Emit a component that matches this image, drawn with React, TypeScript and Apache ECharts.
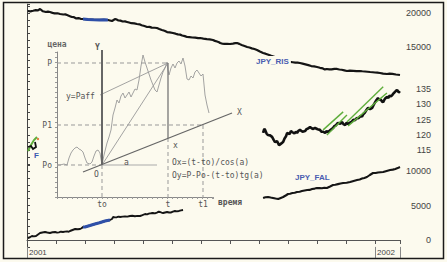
import React, { useEffect, useRef } from 'react';
import * as echarts from 'echarts';

// ---- main chart data: x = months since Jan 2001 ----
const monthTickLabels: Record<number, string> = { 0: '2001', 12: '2002' };

const risLine: [number, number][] = [
  [0.03, 20294], [0.12, 20250], [0.21, 20330], [0.3, 20420], [0.38, 20380], [0.45, 20590], [0.55, 20250], [0.65, 20150],
  [0.72, 20210], [0.79, 20140], [0.88, 20020], [0.95, 19950], [1.05, 19960], [1.14, 19850], [1.25, 19780], [1.32, 19800],
  [1.38, 19700], [1.5, 19500], [1.55, 19410], [1.62, 19380], [1.7, 19200], [1.78, 19240], [1.85, 19150], [1.93, 19120],
  [2.1, 19050], [2.3, 19000], [2.5, 18980], [2.65, 18990], [2.79, 18970], [2.86, 18900], [2.93, 18820], [3.0, 19000],
  [3.03, 19120], [3.1, 19020], [3.15, 18900], [3.22, 18880], [3.3, 18750], [3.38, 18760], [3.45, 18680], [3.52, 18600],
  [3.6, 18500], [3.7, 18480], [3.79, 18380], [3.88, 18330], [3.95, 18200], [4.05, 18080], [4.14, 17940], [4.22, 17960],
  [4.3, 17850], [4.4, 17830], [4.48, 17790], [4.56, 17640], [4.65, 17500], [4.74, 17380], [4.83, 17200], [4.92, 17150],
  [5.03, 17060], [5.12, 16960], [5.2, 16850], [5.28, 16820], [5.35, 16700], [5.44, 16600], [5.52, 16470], [5.6, 16450],
  [5.7, 16400], [5.8, 16380], [5.9, 16300], [5.97, 16320], [6.08, 16230], [6.2, 16150], [6.3, 16120], [6.41, 16030],
  [6.48, 15900], [6.55, 15800], [6.62, 15700], [6.66, 15590], [6.74, 15480], [6.8, 15450], [6.9, 15470], [7.0, 15440],
  [7.1, 15500], [7.18, 15560], [7.24, 15590], [7.32, 15460], [7.4, 15300], [7.5, 15150], [7.59, 15000], [7.67, 14920],
  [7.75, 14800], [7.84, 14700], [7.93, 14560], [8.03, 14330], [8.14, 14120], [8.22, 14020], [8.3, 13900], [8.42, 13700],
  [8.55, 13530], [8.65, 13420], [8.75, 13300], [8.82, 13180], [8.9, 13090], [8.98, 12920], [9.07, 12800], [9.16, 12760],
  [9.25, 12700], [9.33, 12690], [9.41, 12650], [9.5, 12560], [9.6, 12450], [9.7, 12330], [9.8, 12200], [9.9, 12140],
  [10.0, 12060], [10.1, 11940], [10.2, 11850], [10.27, 11700], [10.34, 11770], [10.42, 11720], [10.5, 11700],
  [10.6, 11790], [10.69, 11770], [10.77, 11690], [10.85, 11650], [10.94, 11560], [11.03, 11470], [11.13, 11520],
  [11.25, 11500], [11.36, 11440], [11.48, 11470], [11.56, 11430], [11.65, 11400], [11.74, 11360], [11.83, 11320],
  [11.92, 11290], [12.0, 11250], [12.08, 11220], [12.17, 11180], [12.28, 11090], [12.41, 11030], [12.5, 11080],
  [12.6, 11050], [12.72, 10960], [12.86, 10880],
];
const risHighlight: [number, number][] = [
  [1.93, 19120], [2.1, 19050], [2.3, 19000], [2.5, 18980], [2.65, 18990], [2.79, 18970],
];

const midLine: [number, number][] = [
  [8.14, 120.6], [8.18, 121.9], [8.21, 121.6], [8.26, 120.4], [8.31, 119.9], [8.38, 119.8], [8.45, 119.3],
  [8.5, 118.4], [8.55, 117.6], [8.62, 117.9], [8.69, 116.6], [8.76, 117.1], [8.83, 117.6], [8.88, 118.8],
  [8.93, 119.5], [8.97, 120.6], [9.05, 120.2], [9.1, 121.2], [9.14, 120.9], [9.22, 120.4], [9.27, 121.0],
  [9.31, 120.6], [9.36, 121.3], [9.41, 121.6], [9.5, 121.0], [9.59, 121.2], [9.64, 121.9], [9.68, 122.0],
  [9.76, 122.5], [9.85, 121.9], [9.93, 122.2], [10.02, 121.8], [10.1, 121.6], [10.15, 121.0], [10.2, 121.0],
  [10.28, 120.6], [10.33, 121.2], [10.38, 120.9], [10.47, 121.6], [10.55, 122.2], [10.6, 122.9], [10.64, 123.0],
  [10.72, 123.9], [10.8, 123.6], [10.86, 124.2], [10.92, 123.4], [10.97, 123.2], [11.02, 123.9], [11.07, 123.5],
  [11.14, 124.0], [11.2, 124.3], [11.25, 124.9], [11.31, 124.8], [11.37, 125.5], [11.43, 125.4], [11.5, 126.2],
  [11.55, 125.9], [11.6, 126.8], [11.65, 127.3], [11.7, 128.1], [11.76, 128.8], [11.83, 128.4], [11.9, 128.8],
  [11.95, 129.8], [12.0, 130.6], [12.05, 131.4], [12.1, 132.0], [12.15, 131.6], [12.2, 131.5], [12.24, 130.9],
  [12.28, 130.7], [12.34, 131.8], [12.41, 132.4], [12.46, 132.1], [12.5, 132.8], [12.55, 132.6], [12.59, 133.0],
  [12.64, 133.6], [12.68, 134.0], [12.72, 134.4], [12.76, 134.7], [12.8, 134.1], [12.83, 134.0], [12.86, 133.7],
];
const channelA: [number, number][] = [[10.21, 121.6], [10.9, 127.5]];
const channelB: [number, number][] = [[10.34, 119.9], [11.03, 126.5]];
const channelC: [number, number][] = [[11.03, 124.2], [12.28, 135.7]];
const channelD: [number, number][] = [[11.07, 122.9], [12.41, 133.7]];

const lowLeftLine: [number, number][] = [
  [0.03, 290], [0.1, 400], [0.17, 580], [0.24, 520], [0.31, 580], [0.38, 800], [0.45, 1014], [0.53, 1090],
  [0.62, 1159], [0.7, 1080], [0.79, 1014], [0.88, 1120], [0.97, 1159], [1.04, 1060], [1.1, 1100], [1.17, 1200],
  [1.24, 1159], [1.31, 1220], [1.38, 1250], [1.44, 1200], [1.48, 1304], [1.57, 1450], [1.66, 1594], [1.75, 1550],
  [1.83, 1594], [1.88, 1700], [1.93, 1884], [2.0, 1884], [2.17, 2100], [2.34, 2319], [2.5, 2500], [2.69, 2754],
  [2.86, 2898], [2.93, 3043], [2.97, 3333], [3.03, 3280], [3.1, 3300], [3.16, 3400], [3.21, 3333], [3.3, 3380],
  [3.38, 3420], [3.46, 3380], [3.55, 3478], [3.63, 3520], [3.72, 3440], [3.81, 3500], [3.9, 3478], [3.98, 3600],
  [4.07, 3768], [4.14, 3720], [4.2, 3830], [4.27, 3870], [4.34, 3913], [4.41, 3860], [4.48, 3980], [4.54, 4100],
  [4.59, 4058], [4.64, 3960], [4.69, 3913], [4.76, 3990], [4.83, 4058], [4.9, 3980], [4.97, 3990], [5.03, 4120],
  [5.1, 4203], [5.17, 4150], [5.24, 4210], [5.31, 4300], [5.38, 4348],
];
const lowLeftHighlight: [number, number][] = [
  [1.93, 1884], [2.0, 1884], [2.17, 2100], [2.34, 2319], [2.5, 2500], [2.69, 2754], [2.86, 2898],
];

const falLine: [number, number][] = [
  [8.14, 6087], [8.22, 6200], [8.31, 6232], [8.4, 6150], [8.48, 6087], [8.57, 6010], [8.66, 5942], [8.75, 6100],
  [8.83, 6232], [8.92, 6450], [9.0, 6666], [9.07, 6700], [9.15, 6800], [9.23, 6850], [9.31, 6957], [9.4, 7000],
  [9.48, 7100], [9.57, 7180], [9.66, 7246], [9.74, 7260], [9.83, 7400], [9.92, 7450], [10.0, 7536], [10.08, 7520],
  [10.17, 7500], [10.25, 7560], [10.34, 7536], [10.45, 7760], [10.55, 7971], [10.63, 8000], [10.72, 8100],
  [10.81, 8200], [10.9, 8261], [11.02, 8300], [11.14, 8406], [11.26, 8560], [11.38, 8696], [11.47, 8780],
  [11.55, 8900], [11.63, 9000], [11.72, 9130], [11.82, 9420], [11.93, 9710], [12.02, 9700], [12.1, 9780],
  [12.19, 9820], [12.28, 9855], [12.4, 10000], [12.52, 10145], [12.61, 10200], [12.7, 10300], [12.78, 10420],
  [12.86, 10580],
];

// ---- inset scheme data (time units / price units of the sketch) ----
const schemeTimeLabels: Record<number, string> = { 45: 'to', 111: 't', 146: 't1' };
const schemePriceLabels: Record<number, string> = { 32: 'Po', 72: 'P1', 134: 'P' };
const schemeCurve: [number, number][] = [
  [0, 32], [3, 32], [7, 33], [10, 32], [12, 39], [14, 44], [16, 47], [18, 49], [20, 50], [22, 48], [24, 47],
  [26, 45], [28, 39], [30, 34], [33, 33], [35, 35], [37, 41], [39, 46], [41, 47], [43, 44], [45, 32], [47, 42],
  [50, 54], [52, 60], [54, 67], [56, 82], [58, 89], [60, 97], [62, 94], [64, 101], [66, 104], [68, 99],
  [70, 102], [72, 105], [74, 100], [76, 104], [78, 108], [80, 107], [82, 117], [84, 131], [86, 142], [88, 135],
  [90, 129], [92, 123], [94, 117], [96, 112], [98, 107], [100, 105], [102, 112], [104, 119], [106, 125],
  [108, 129], [110, 135], [111, 127], [112, 122], [114, 129], [116, 133], [118, 129], [120, 134], [122, 136],
  [124, 133], [126, 139], [128, 131], [130, 118], [132, 117], [134, 121], [136, 119], [138, 125], [140, 127],
  [142, 124], [144, 121], [146, 123], [148, 102], [150, 92], [152, 84],
];
const schemeYAxis: [number, number][] = [[45, 32], [45, 147]];
const schemeYBelow: [number, number][] = [[45, 0], [45, 32]];
const schemeXAxis: [number, number][] = [[26, 25], [175, 84]];
const schemeHoriz: [number, number][] = [[45, 32], [100, 32]];
const schemeP0Dash: [number, number][] = [[0, 32], [45, 32]];
const schemePDash: [number, number][] = [[0, 134], [111, 134]];
const schemeP1Dash: [number, number][] = [[0, 72], [146, 72]];
const schemeTSolid: [number, number][] = [[111, 134], [111, 59]];
const schemeTDash: [number, number][] = [[111, 59], [111, 0]];
const schemeT1Dash: [number, number][] = [[146, 72], [146, 0]];
const schemePaff: [number, number][] = [[43, 102], [111, 134]];
const schemeOP: [number, number][] = [[45, 32], [111, 134]];

const BG = '#FCFAEE';
const MONO = 'DejaVu Sans Mono';
const SANS = 'Liberation Sans';

const line = (data: [number, number][], xi: number, yi: number, color: string, width: number, type: any = 'solid', z = 2) => ({
  type: 'line', data, xAxisIndex: xi, yAxisIndex: yi, symbol: 'none', silent: true, clip: false, z,
  lineStyle: { color, width, type }, emphasis: { disabled: true },
});

const rightAxis = (gridIndex: number, min: number, max: number, interval: number, show: (v: number) => boolean) => ({
  type: 'value', gridIndex, position: 'right', min, max, interval,
  axisLine: { show: true, lineStyle: { color: '#444', width: 1 } },
  axisTick: { show: true, length: 3, lineStyle: { color: '#444' } },
  splitLine: { show: false },
  axisLabel: {
    color: '#444', fontSize: 9, fontFamily: SANS, align: 'right', margin: 31,
    formatter: (v: number) => (show(Math.round(v * 10) / 10) ? String(Math.round(v)) : ''),
  },
});

const hiddenX = (gridIndex: number) => ({ type: 'value', gridIndex, min: 0, max: 12.86, show: false });

const txt = (text: string, x: number, y: number, extra: any = {}) => ({
  type: 'text', x, y, z: 20, silent: true,
  style: { text, fill: '#555', font: `8px "${MONO}"`, verticalAlign: 'middle', ...extra },
});

const option: any = {
  animation: false,
  backgroundColor: BG,
  grid: [
    { left: 27, width: 373, top: 4.16, height: 76.84 },
    { left: 27, width: 373, top: 81.375, height: 83.875 },
    { left: 27, width: 373, top: 164.1, height: 82.8 },
    { left: 57, width: 156, top: 52, height: 145 },
    { left: 57, width: 190, top: 52, height: 145 },
  ],
  xAxis: [
    hiddenX(0),
    hiddenX(1),
    {
      type: 'value', gridIndex: 2, min: 0, max: 12.86, interval: 1, position: 'bottom',
      axisLine: { show: true, lineStyle: { color: '#555' } },
      axisTick: { show: true, length: 4, lineStyle: { color: '#555' } },
      splitLine: { show: false },
      axisLabel: {
        color: '#444', fontSize: 8, fontFamily: SANS, align: 'left', margin: 2, padding: [0, 0, 0, 2],
        formatter: (v: number) => monthTickLabels[Math.round(v)] ?? '',
      },
    },
    {
      type: 'value', gridIndex: 2, min: 0, max: 12.86, interval: 12, position: 'bottom',
      axisLine: { show: false }, axisLabel: { show: false }, splitLine: { show: false },
      axisTick: { show: true, length: 11, lineStyle: { color: '#888' } },
    },
    {
      type: 'value', gridIndex: 3, min: 0, max: 156, interval: 5,
      axisLine: { show: true, lineStyle: { color: '#888' } },
      axisTick: { show: true, length: 2, lineStyle: { color: '#999' } },
      splitLine: { show: false },
      axisLabel: {
        customValues: [45, 111, 146], color: '#555', fontSize: 8, fontFamily: MONO, margin: 3,
        formatter: (v: number) => schemeTimeLabels[Math.round(v)] ?? '',
      },
      name: 'время', nameLocation: 'end', nameGap: 5,
      nameTextStyle: { color: '#555', fontSize: 8, fontFamily: MONO, fontWeight: 'bold', verticalAlign: 'top', padding: [1, 0, 0, 0] },
    },
    { type: 'value', gridIndex: 4, min: 0, max: 190, show: false },
  ],
  yAxis: [
    rightAxis(0, 10000, 21300, 1000, (v) => v === 15000 || v === 20000),
    rightAxis(1, 110, 137.5, 2.5, (v) => v >= 115 && v <= 135 && v % 5 === 0),
    rightAxis(2, -1000, 11000, 1000, (v) => v === 0 || v === 5000 || v === 10000),
    {
      type: 'value', gridIndex: 3, min: 0, max: 145, interval: 5, position: 'left',
      axisLine: { show: true, lineStyle: { color: '#888' } },
      axisTick: { show: true, length: 2, lineStyle: { color: '#999' } },
      splitLine: { show: false },
      axisLabel: {
        customValues: [32, 72, 134], color: '#555', fontSize: 8, fontFamily: MONO, margin: 5,
        formatter: (v: number) => schemePriceLabels[Math.round(v)] ?? '',
      },
      name: 'цена', nameLocation: 'end', nameGap: 4,
      nameTextStyle: { color: '#666', fontSize: 8, fontFamily: MONO, fontWeight: 'bold' },
    },
    { type: 'value', gridIndex: 4, min: 0, max: 145, show: false },
  ],
  series: [
    // inset sketch (own 1:1 coordinate grid)
    line(schemeP0Dash, 5, 4, '#999', 1, [4, 3], 1),
    line(schemePDash, 5, 4, '#999', 1, [4, 3], 1),
    line(schemeP1Dash, 5, 4, '#999', 1, [4, 3], 1),
    line(schemeTDash, 5, 4, '#999', 1, [4, 3], 1),
    line(schemeT1Dash, 5, 4, '#999', 1, [4, 3], 1),
    line(schemeYBelow, 5, 4, '#999', 1, [4, 3], 1),
    line(schemeHoriz, 5, 4, '#aaa', 1.2, 'solid', 1),
    line(schemePaff, 5, 4, '#999', 0.9, 'solid', 1),
    line(schemeOP, 5, 4, '#999', 0.9, 'solid', 1),
    line(schemeCurve, 5, 4, '#999', 0.9, 'solid', 1),
    line(schemeTSolid, 5, 4, '#777', 1.3, 'solid', 1),
    line(schemeXAxis, 5, 4, '#666', 1.3, 'solid', 1),
    line(schemeYAxis, 5, 4, '#666', 2, 'solid', 1),
    // main series
    line(risLine, 0, 0, '#151515', 2.2),
    line(risHighlight, 0, 0, '#2E4FA8', 3, 'solid', 3),
    line(midLine, 1, 1, '#111', 2.6),
    line(channelA, 1, 1, '#5FAE3C', 1.4, 'solid', 3),
    line(channelB, 1, 1, '#5FAE3C', 1.4, 'solid', 3),
    line(channelC, 1, 1, '#5FAE3C', 1.4, 'solid', 3),
    line(channelD, 1, 1, '#5FAE3C', 1.4, 'solid', 3),
    line(lowLeftLine, 2, 2, '#151515', 1.9),
    line(lowLeftHighlight, 2, 2, '#2E4FA8', 3, 'solid', 3),
    line(falLine, 2, 2, '#151515', 2.1),
  ],
  graphic: [
    { type: 'rect', z: 30, silent: true, shape: { x: 3.5, y: 2.5, width: 440, height: 256 }, style: { fill: 'none', stroke: '#1a1a1a', lineWidth: 1.5 } },
    { type: 'text', z: 20, silent: true, x: 254, y: 61, style: { text: 'JPY_RIS', fill: '#4a5db0', font: `bold 8px "${SANS}"`, verticalAlign: 'middle', backgroundColor: BG, padding: [1, 2] } },
    { type: 'text', z: 20, silent: true, x: 295, y: 177, style: { text: 'JPY_FAL', fill: '#4a5db0', font: `bold 8px "${SANS}"`, verticalAlign: 'middle' } },
    txt('Y', 95, 47, { font: `bold 8px "${MONO}"` }),
    txt('y=Paff', 66, 96),
    txt('X', 237, 112),
    txt('x', 173, 145),
    txt('O', 94, 174),
    txt('a', 124, 162),
    txt('Ox=(t-to)/cos(a)', 172, 162),
    txt('Oy=P-Po-(t-to)tg(a)', 172, 175),
    // tiny icon at the left edge
    { type: 'polyline', z: 20, silent: true, shape: { points: [[28, 151], [31, 145], [34, 140], [37, 137]] }, style: { stroke: '#5FAE3C', lineWidth: 2, fill: 'none' } },
    { type: 'polyline', z: 21, silent: true, shape: { points: [[28, 147], [31, 146], [33, 149], [36, 147], [35, 142]] }, style: { stroke: '#111', lineWidth: 1.8, fill: 'none' } },
    { type: 'circle', z: 21, silent: true, shape: { cx: 38, cy: 139, r: 1.2 }, style: { fill: '#e07a3a' } },
    { type: 'text', z: 21, silent: true, x: 34, y: 155, style: { text: 'F', fill: '#3a58b0', font: `bold 8px "${SANS}"`, verticalAlign: 'middle' } },
  ],
};

export default function App() {
  const ref = useRef<HTMLDivElement>(null);
  useEffect(() => {
    if (!ref.current) return;
    const chart = echarts.init(ref.current, null, { renderer: 'svg' });
    chart.setOption(option);
    return () => chart.dispose();
  }, []);
  return <div ref={ref} style={{ position: 'fixed', left: 0, top: 0, width: 447, height: 262 }} />;
}
